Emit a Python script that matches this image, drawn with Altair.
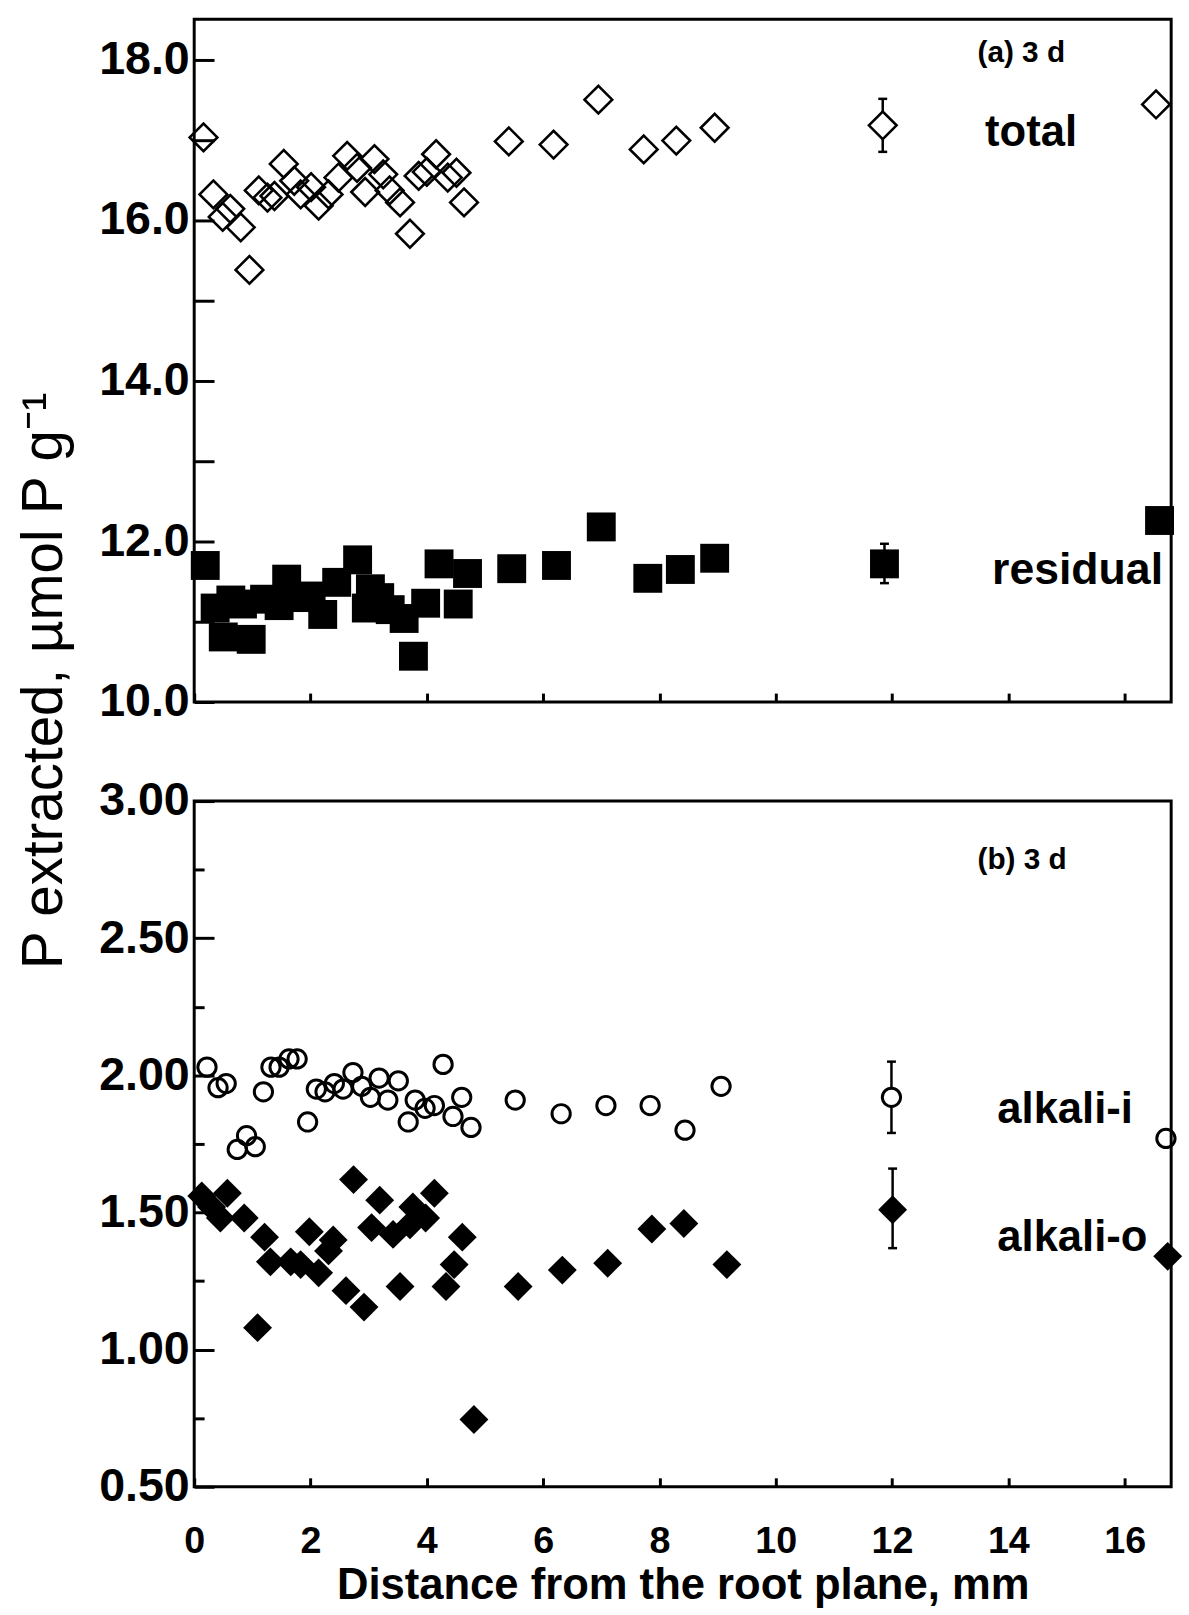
import altair as alt
import pandas as pd

# ---------------- data ----------------
# (a) 3 d : total P (open diamonds) and residual P (filled squares)
total_x = [0.16, 0.33, 0.49, 0.62, 0.80, 0.95, 1.11, 1.26, 1.38, 1.54, 1.72, 1.83, 2.01,
           2.14, 2.31, 2.48, 2.63, 2.80, 2.94, 3.10, 3.25, 3.36, 3.54, 3.71, 3.86, 4.00,
           4.16, 4.36, 4.51, 4.64, 5.41, 6.18, 6.95, 7.73, 8.29, 8.95, 16.54]
total_y = [17.03, 16.32, 16.04, 16.14, 15.91, 15.38, 16.37, 16.28, 16.30, 16.70, 16.49,
           16.32, 16.41, 16.18, 16.32, 16.53, 16.80, 16.65, 16.35, 16.76, 16.57, 16.37,
           16.22, 15.83, 16.55, 16.60, 16.82, 16.53, 16.59, 16.22, 16.98, 16.94, 17.50,
           16.88, 16.99, 17.15, 17.44]

residual_x = [0.19, 0.36, 0.50, 0.63, 0.83, 0.98, 1.21, 1.46, 1.59, 1.81, 2.01, 2.21,
              2.45, 2.81, 2.96, 3.03, 3.19, 3.37, 3.61, 3.77, 3.98, 4.21, 4.54, 4.70,
              5.46, 6.23, 7.00, 7.80, 8.36, 8.95, 16.60]
residual_y = [11.70, 11.17, 10.81, 11.27, 11.22, 10.78, 11.28, 11.20, 11.53, 11.30, 11.32,
              11.09, 11.49, 11.77, 11.17, 11.41, 11.30, 11.15, 11.04, 10.57, 11.23, 11.72,
              11.22, 11.60, 11.66, 11.70, 12.18, 11.54, 11.65, 11.79, 12.26]

# (b) 3 d : alkali-i (open circles) and alkali-o (filled diamonds)
alkali_i_x = [0.22, 0.41, 0.55, 0.74, 0.90, 1.05, 1.19, 1.32, 1.46, 1.63, 1.77, 1.95, 2.10,
              2.25, 2.41, 2.56, 2.73, 2.88, 3.03, 3.18, 3.33, 3.51, 3.68, 3.80, 3.97, 4.13,
              4.28, 4.45, 4.60, 4.76, 5.52, 6.31, 7.08, 7.84, 8.44, 9.06, 16.71]
alkali_i_y = [2.03, 1.955, 1.97, 1.73, 1.78, 1.74, 1.94, 2.03, 2.03, 2.06, 2.06, 1.83, 1.95,
              1.94, 1.97, 1.95, 2.01, 1.96, 1.92, 1.99, 1.91, 1.98, 1.83, 1.91, 1.88, 1.89,
              2.04, 1.85, 1.92, 1.81, 1.91, 1.86, 1.89, 1.89, 1.80, 1.96, 1.77]

alkali_o_x = [0.13, 0.30, 0.45, 0.57, 0.86, 1.09, 1.21, 1.31, 1.66, 1.83, 1.98, 2.14, 2.31,
              2.39, 2.61, 2.74, 2.92, 3.05, 3.19, 3.42, 3.54, 3.71, 3.76, 3.98, 4.13, 4.33,
              4.47, 4.61, 4.81, 5.57, 6.33, 7.11, 7.87, 8.42, 9.16, 16.74]
alkali_o_y = [1.56, 1.52, 1.48, 1.57, 1.48, 1.08, 1.41, 1.32, 1.32, 1.31, 1.43, 1.28, 1.36,
              1.40, 1.215, 1.62, 1.155, 1.445, 1.545, 1.42, 1.23, 1.455, 1.52, 1.48, 1.57,
              1.23, 1.31, 1.41, 0.745, 1.23, 1.29, 1.315, 1.44, 1.46, 1.31, 1.34]

# representative error bars drawn near 12 mm
err_series = ["total", "residual", "alkali-i", "alkali-o"]
err_x = [11.84, 11.87, 11.99, 12.01]
err_mean = [17.18, 11.72, 1.92, 1.51]
err_lo = [16.85, 11.48, 1.79, 1.37]
err_hi = [17.51, 11.97, 2.05, 1.66]

# axis ticks / labels
x_label_values = [0, 2, 4, 6, 8, 10, 12, 14, 16]
top_label_values = [10, 12, 14, 16, 18]
top_tick_values = [10, 11, 12, 13, 14, 15, 16, 17, 18]
bot_label_values = [0.5, 1.0, 1.5, 2.0, 2.5, 3.0]
bot_tick_values = [0.5, 0.75, 1.0, 1.25, 1.5, 1.75, 2.0, 2.25, 2.5, 2.75, 3.0]

# ---------------- layout / style ----------------
W, H_TOP, H_BOT = 986, 689, 692
SANS = "'Liberation Sans', Arial, Helvetica, sans-serif"

XS = alt.Scale(domain=[0, 16.8], nice=False, zero=False)
YS_TOP = alt.Scale(domain=[10, 18.5], nice=False, zero=False)
YS_BOT = alt.Scale(domain=[0.5, 3.0], nice=False, zero=False)

df_tot = pd.DataFrame({"x": total_x, "y": total_y})
df_res = pd.DataFrame({"x": residual_x, "y": residual_y})
df_ai = pd.DataFrame({"x": alkali_i_x, "y": alkali_i_y})
df_ao = pd.DataFrame({"x": alkali_o_x, "y": alkali_o_y})
df_err = pd.DataFrame({"series": err_series, "x": err_x, "mean": err_mean,
                       "lo": err_lo, "hi": err_hi})


def label_y_axis(values, fmt, **kw):
    return alt.Axis(values=values, format=fmt, ticks=False, tickSize=0, domain=False,
                    grid=False, labelFont=SANS, labelFontSize=47, labelFontWeight="bold",
                    labelColor="black", labelPadding=5, labelFlush=False, labelOverlap=False,
                    **kw)


def tick_y_axis(values, size):
    return alt.Axis(orient="right", offset=-W, values=values, labels=False, domain=False,
                    grid=False, ticks=True, tickSize=size, tickWidth=3, tickColor="black",
                    title=None)


def x_tick_axis(h):
    return alt.Axis(orient="top", offset=-h, values=x_label_values, labels=False,
                    domain=False, grid=False, ticks=True, tickSize=9, tickWidth=3,
                    tickColor="black", title=None)


x_blank_axis = alt.Axis(labels=False, ticks=False, tickSize=0, domain=False, grid=False,
                        title=None)
x_label_axis = alt.Axis(values=x_label_values, format="d", labels=True, ticks=False,
                        tickSize=0, domain=False, grid=False, labelFont=SANS,
                        labelFontSize=38, labelFontWeight="bold", labelColor="black",
                        labelPadding=36, labelFlush=False, labelOverlap=False,
                        title="Distance from the root plane, mm", titleFont=SANS,
                        titleFontSize=44, titleFontWeight="bold", titleColor="black",
                        titleY=100, titleBaseline="middle")

minor_major = {"condition": {"test": "abs(datum.value*2 - round(datum.value*2)) < 0.01",
                             "value": 20}, "value": 10}


def make_text(txt, x, y, yscale, size, baseline="alphabetic"):
    d = pd.DataFrame({"x": [x], "y": [y], "t": [txt]})
    return alt.Chart(d).mark_text(font=SANS, fontSize=size, fontWeight="bold",
                                  align="left", baseline=baseline, color="black").encode(
        x=alt.X("x:Q", scale=XS, axis=None),
        y=alt.Y("y:Q", scale=yscale, axis=None),
        text="t:N")


def err_layers(sub, yscale, shape, open_symbol, size, sw):
    base = alt.Chart(sub)
    rule = base.mark_rule(color="black", strokeWidth=2.5).encode(
        x=alt.X("x:Q", scale=XS, axis=None),
        y=alt.Y("lo:Q", scale=yscale, axis=None), y2="hi:Q")
    cap_lo = base.mark_tick(orient="horizontal", size=9, thickness=2.5, color="black",
                            opacity=1).encode(
        x=alt.X("x:Q", scale=XS, axis=None), y=alt.Y("lo:Q", scale=yscale, axis=None))
    cap_hi = base.mark_tick(orient="horizontal", size=9, thickness=2.5, color="black",
                            opacity=1).encode(
        x=alt.X("x:Q", scale=XS, axis=None), y=alt.Y("hi:Q", scale=yscale, axis=None))
    if open_symbol:
        sym = base.mark_point(shape=shape, filled=True, fill="white", stroke="black",
                              strokeWidth=sw, size=size, opacity=1)
    else:
        sym = base.mark_point(shape=shape, filled=True, color="black", size=size, opacity=1)
    sym = sym.encode(x=alt.X("x:Q", scale=XS, axis=None),
                     y=alt.Y("mean:Q", scale=yscale, axis=None))
    return [rule, cap_lo, cap_hi, sym]


# ---------------- panel (a) ----------------
tot_pts = alt.Chart(df_tot).mark_point(shape="diamond", filled=False, stroke="black",
                                       strokeWidth=2.6, size=780, opacity=1).encode(
    x=alt.X("x:Q", scale=XS, axis=x_blank_axis),
    y=alt.Y("y:Q", scale=YS_TOP,
            axis=label_y_axis(top_label_values, ".1f",
                              title="P extracted, µmol P g⁻¹", titleFont=SANS,
                              titleFontSize=57, titleFontWeight="normal",
                              titleColor="black", titleX=-151, titleY=667,
                              titleAngle=270, titleAlign="center",
                              titleBaseline="middle")))

res_pts = alt.Chart(df_res).mark_point(shape="square", filled=True, color="black",
                                       size=850, opacity=1).encode(
    x=alt.X("x:Q", scale=XS, axis=x_tick_axis(H_TOP)),
    y=alt.Y("y:Q", scale=YS_TOP, axis=tick_y_axis(top_tick_values, 20)))

top_layers = [tot_pts, res_pts]
top_layers += err_layers(df_err[df_err.series == "total"], YS_TOP, "diamond", True, 780, 2.6)
top_layers += err_layers(df_err[df_err.series == "residual"], YS_TOP, "square", False, 850, 0)
top_layers += [
    make_text("(a) 3 d", 13.47, 18.08, YS_TOP, 30, "middle"),
    make_text("total", 13.60, 16.92, YS_TOP, 44),
    make_text("residual", 13.72, 11.47, YS_TOP, 45),
]
top = alt.layer(*top_layers).resolve_axis(x="independent", y="independent").properties(
    width=W, height=H_TOP)

# ---------------- panel (b) ----------------
ai_pts = alt.Chart(df_ai).mark_point(shape="circle", filled=False, stroke="black",
                                     strokeWidth=3, size=340, opacity=1).encode(
    x=alt.X("x:Q", scale=XS, axis=x_label_axis),
    y=alt.Y("y:Q", scale=YS_BOT, axis=label_y_axis(bot_label_values, ".2f", title=None)))

ao_pts = alt.Chart(df_ao).mark_point(shape="diamond", filled=True, color="black",
                                     size=850, opacity=1).encode(
    x=alt.X("x:Q", scale=XS, axis=x_tick_axis(H_BOT)),
    y=alt.Y("y:Q", scale=YS_BOT, axis=tick_y_axis(bot_tick_values, minor_major)))

bot_layers = [ai_pts, ao_pts]
bot_layers += err_layers(df_err[df_err.series == "alkali-i"], YS_BOT, "circle", True, 340, 3)
bot_layers += err_layers(df_err[df_err.series == "alkali-o"], YS_BOT, "diamond", False, 850, 0)
bot_layers += [
    make_text("(b) 3 d", 13.47, 2.784, YS_BOT, 30, "middle"),
    make_text("alkali-i", 13.81, 1.827, YS_BOT, 44),
    make_text("alkali-o", 13.81, 1.361, YS_BOT, 44),
]
bottom = alt.layer(*bot_layers).resolve_axis(x="independent", y="independent").properties(
    width=W, height=H_BOT)

chart = alt.vconcat(top, bottom, spacing=100, bounds="flush").properties(
    padding={"left": 14, "top": 10, "right": 5, "bottom": 5},
    background="white",
).configure_view(stroke="black", strokeWidth=3)

chart.save("out.html", embed_options={"renderer": "svg", "actions": False})
